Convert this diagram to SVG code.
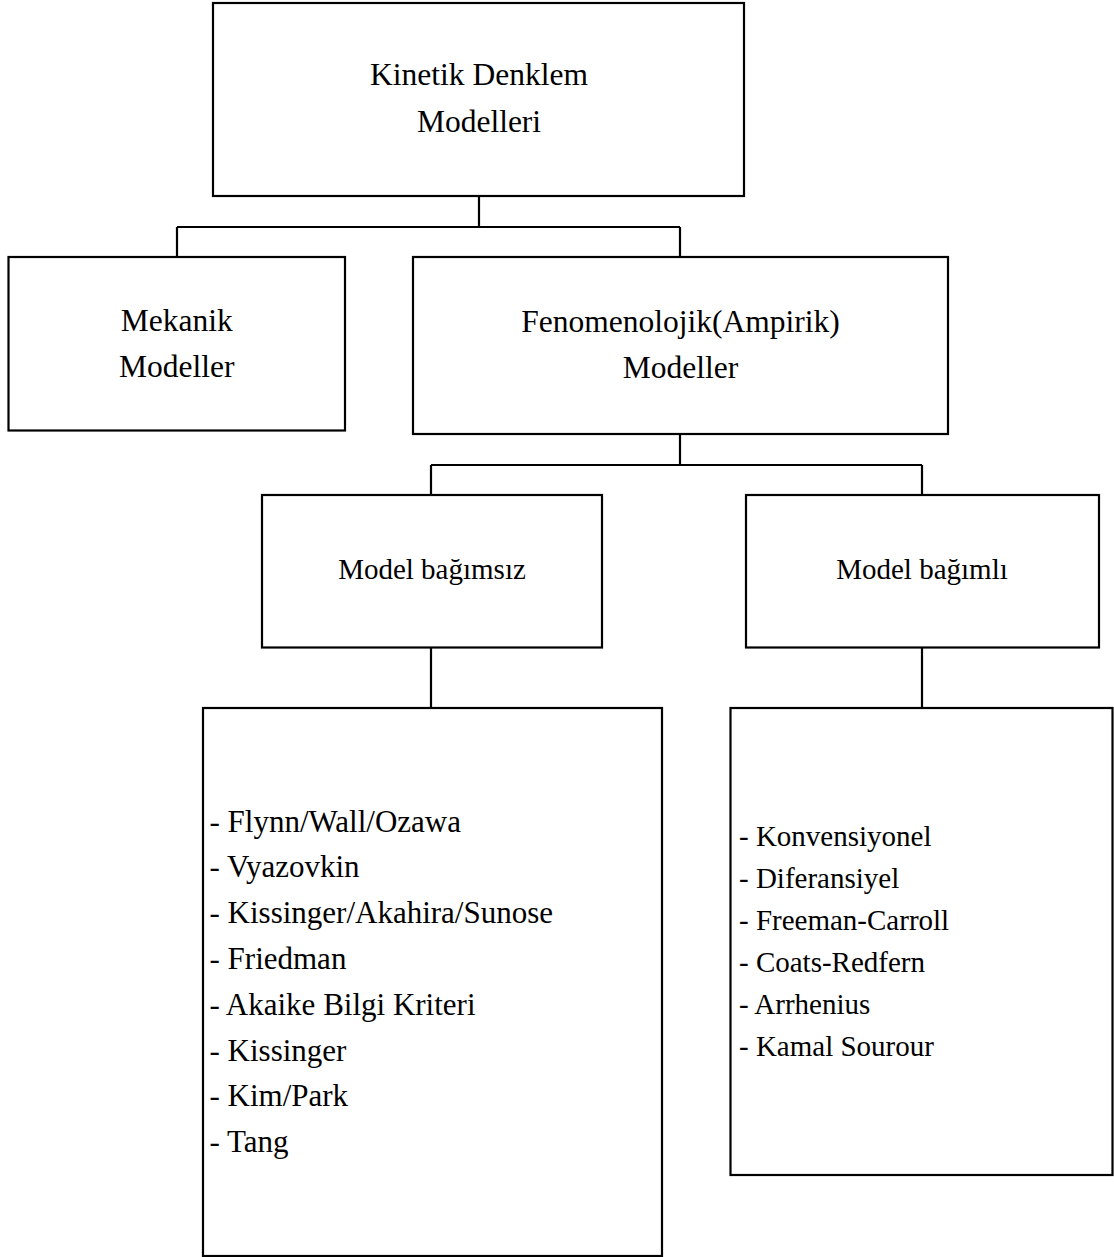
<svg xmlns="http://www.w3.org/2000/svg" width="1114" height="1257" viewBox="0 0 1114 1257">
<style>
.box{fill:#fff;stroke:#000;stroke-width:2.2}
.con{fill:none;stroke:#000;stroke-width:2.2}
text{font-family:"Liberation Serif","Times New Roman",serif;fill:#000}
.c{text-anchor:middle}
.t1{font-size:31.5px}
.t2{font-size:29px}
.l1{font-size:31px}
.l2{font-size:29px}
</style>
<rect width="1114" height="1257" fill="#fff"/>
<g id="connectors">
<path class="con" d="M479 196V227M177 227H680M177 227V257M680 227V257"/>
<path class="con" d="M680 434V465M431 465H922M431 465V495M922 465V495"/>
<path class="con" d="M431 647V708M922 647V708"/>
</g>
<g id="kinetik">
<rect class="box" x="213" y="3" width="531" height="193"/>
<text class="c t1" x="479" y="85">Kinetik Denklem</text>
<text class="c t1" x="479" y="131.5">Modelleri</text>
</g>
<g id="mekanik">
<rect class="box" x="8.5" y="257" width="336.5" height="173.5"/>
<text class="c t1" x="176.7" y="330.7">Mekanik</text>
<text class="c t1" x="176.7" y="377">Modeller</text>
</g>
<g id="fenomenolojik">
<rect class="box" x="413" y="257" width="535" height="177"/>
<text class="c t1" x="680.5" y="331.7">Fenomenolojik(Ampirik)</text>
<text class="c t1" x="680.5" y="378">Modeller</text>
</g>
<g id="bagimsiz">
<rect class="box" x="262" y="495" width="340" height="152.5"/>
<text class="c t2" x="432" y="579.3">Model bağımsız</text>
</g>
<g id="bagimli">
<rect class="box" x="746" y="495" width="353" height="152.5"/>
<text class="c t2" x="922" y="579.3">Model bağımlı</text>
</g>
<g id="bagimsiz-list">
<rect class="box" x="203" y="708" width="459" height="548"/>
<text class="l1" x="209.5" y="831.5">- Flynn/Wall/Ozawa</text>
<text class="l1" x="209.5" y="877.3">- Vyazovkin</text>
<text class="l1" x="209.5" y="923.1">- Kissinger/Akahira/Sunose</text>
<text class="l1" x="209.5" y="968.9">- Friedman</text>
<text class="l1" x="209.5" y="1014.7">- Akaike Bilgi Kriteri</text>
<text class="l1" x="209.5" y="1060.5">- Kissinger</text>
<text class="l1" x="209.5" y="1106.3">- Kim/Park</text>
<text class="l1" x="209.5" y="1152.1">- Tang</text>
</g>
<g id="bagimli-list">
<rect class="box" x="730.5" y="708" width="382" height="467"/>
<text class="l2" x="739" y="845.5">- Konvensiyonel</text>
<text class="l2" x="739" y="887.6">- Diferansiyel</text>
<text class="l2" x="739" y="929.7">- Freeman-Carroll</text>
<text class="l2" x="739" y="971.8">- Coats-Redfern</text>
<text class="l2" x="739" y="1013.9">- Arrhenius</text>
<text class="l2" x="739" y="1056">- Kamal Sourour</text>
</g>
</svg>
